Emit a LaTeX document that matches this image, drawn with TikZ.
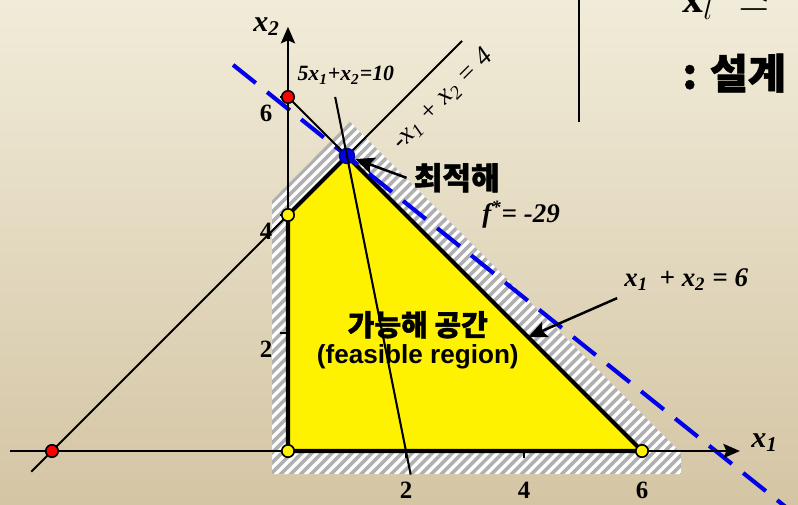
\documentclass[tikz,border=0pt]{standalone}
\usepackage{fontspec}
\setmainfont{Liberation Serif}
\newfontfamily\sansf{Liberation Sans}
\newfontfamily\kofont{Noto Sans CJK KR}[BoldFeatures={FakeBold=1.3}]
\usepackage{xcolor}
\usepackage{tikz}
\usetikzlibrary{arrows.meta,positioning,calc}

\definecolor{bgtop}{RGB}{241,236,217}
\definecolor{bgbot}{RGB}{212,197,164}
\definecolor{hatchgray}{RGB}{176,176,176}
\definecolor{optblue}{RGB}{0,0,235}
\newcommand{\xv}[1]{x\textsubscript{#1}}

\begin{document}
\begin{tikzpicture}[
  x=1cm, y=1cm,
  dot/.style={circle, draw=black, line width=0.8pt, inner sep=0pt, minimum size=0.21cm},
  thinline/.style={line width=1pt},
  rim/.style={line width=2pt, line join=round},
  axisline/.style={line width=1.1pt, -{Stealth[length=2.8mm, width=2.4mm, inset=0.5mm]}},
  arr/.style={-{Stealth[length=3.2mm, width=2.8mm, inset=0.6mm]}, line width=1.2pt},
  ticklab/.style={font=\fontsize{12}{14}\selectfont\bfseries},
  eqn/.style={font=\fontsize{13}{15}\selectfont\bfseries\itshape},
  kor/.style={font=\kofont\bfseries\fontsize{14}{16}\selectfont}
]
\fill[top color=bgtop, bottom color=bgbot] (-4.881,-0.915) rectangle (8.644,7.644);
\useasboundingbox (-4.881,-0.915) rectangle (8.644,7.644);

\coordinate (O) at (0,0);
\coordinate (A) at (6,0);
\coordinate (B) at (1,5);
\coordinate (C) at (0,4);
\coordinate (P6) at (0,6);
\coordinate (Q) at (-4,0);
\coordinate (x1l) at (-4.71,0);
\coordinate (x1r) at (7.66,0);
\coordinate (x2t) at (0,7.19);
\coordinate (m1) at (-4.35,-0.35);
\coordinate (m2) at (2.95,6.95);
\coordinate (n1) at (0.8,6);
\coordinate (n2) at (2.08,-0.4);
\coordinate (obj1) at (-0.93,6.544);
\coordinate (obj2) at (8.7,-1.16);
\coordinate (vtop) at (4.94,7.644);
\coordinate (vbot) at (4.94,5.576);

\begin{scope}
  \clip (-0.27,-0.39) -- (-0.27,4.25) -- (1.05,5.58) -- (6.66,-0.03) -- (6.66,-0.39) -- cycle;
  \fill[white] (-1,-1) rectangle (8,7);
  \foreach \k in {-6,-5.83,...,6.5}
    \draw[hatchgray, line width=1.7pt] (\k,-1) -- ++(8,8);
\end{scope}

\filldraw[fill=yellow, rim] (O) -- (A) -- (B) -- (C) -- cycle;

\draw[optblue, line width=2pt, dash pattern=on 14pt off 7pt] (obj1) -- (obj2);

\draw[thinline] (P6) -- (B);
\draw[thinline] (m1) -- (m2);
\draw[axisline] (x1l) -- (x1r);
\draw[axisline] (O) -- (x2t);
\foreach \v in {2,4,6} {
  \draw[thinline] (\v,0) -- (\v,-0.12);
  \draw[thinline] (0,\v) -- (-0.13,\v);
  \node[ticklab] (tx\v) at (\v,-0.66) {\v};
  \node[ticklab] (ty\v) at (-0.37,\v-0.27) {\v};
}

\node[dot, fill=red] (P6d) at (P6) {};
\node[dot, fill=red] (Qd) at (Q) {};
\node[dot, fill=yellow] (Od) at (O) {};
\node[dot, fill=yellow] (Ad) at (A) {};
\node[dot, fill=yellow] (Cd) at (C) {};
\node[dot, fill=optblue, draw=optblue!70!black, minimum size=0.25cm] (Bd) at (B) {};
\draw[thinline] (n1) -- (n2);

\node[font=\fontsize{14.5}{16}\selectfont\bfseries\itshape] (x2lab) at (-0.36,7.19) {\xv{2}};
\node[font=\fontsize{14.5}{16}\selectfont\bfseries\itshape] (x1lab) at (8.08,0.14) {\xv{1}};
\node[font=\fontsize{10.5}{12}\selectfont\bfseries\itshape] (lab10) at (0.98,6.37) {5\xv{1}+\xv{2}=10};
\node[font=\fontsize{13}{15}\selectfont\itshape, rotate=45, inner sep=1pt] (lab4) at (2.62,5.96) {-\xv{1} + \xv{2} = 4};

\node[kor, font=\kofont\bfseries\fontsize{15}{18}\selectfont] (opt) at (2.86,4.63) {최적해};
\draw[arr, shorten >=0.15cm] (opt.west) -- (B);
\node[eqn] (fstar) at (3.95,4.0) {f\textsuperscript{*}= -29};

\node[eqn] (lab6) at (6.75,2.9) {\xv{1} \,+ \xv{2} = 6};
\coordinate (E6) at ($(A)!0.386!(B)$);
\draw[arr] (lab6.south west) -- (E6);

\node[kor] (feas) at (2.2,2.14) {가능해 공간};
\node[font=\sansf\bfseries\fontsize{12.6}{15}\selectfont, below=-4pt of feas] (feasen) {(feasible region)};

\draw[line width=1pt] (vtop) -- (vbot);
\node[anchor=base west, inner sep=0pt, font=\fontsize{20}{24}\selectfont] (bound) at (6.68,7.424) {$\mathbf{x}_{l}\;\;\raisebox{4pt}{$\le$}$};
\node[anchor=base west, inner sep=0pt, font=\kofont\bfseries\fontsize{20}{24}\selectfont] (design) at (6.68,6.14) {: 설계};
\end{tikzpicture}
\end{document}
